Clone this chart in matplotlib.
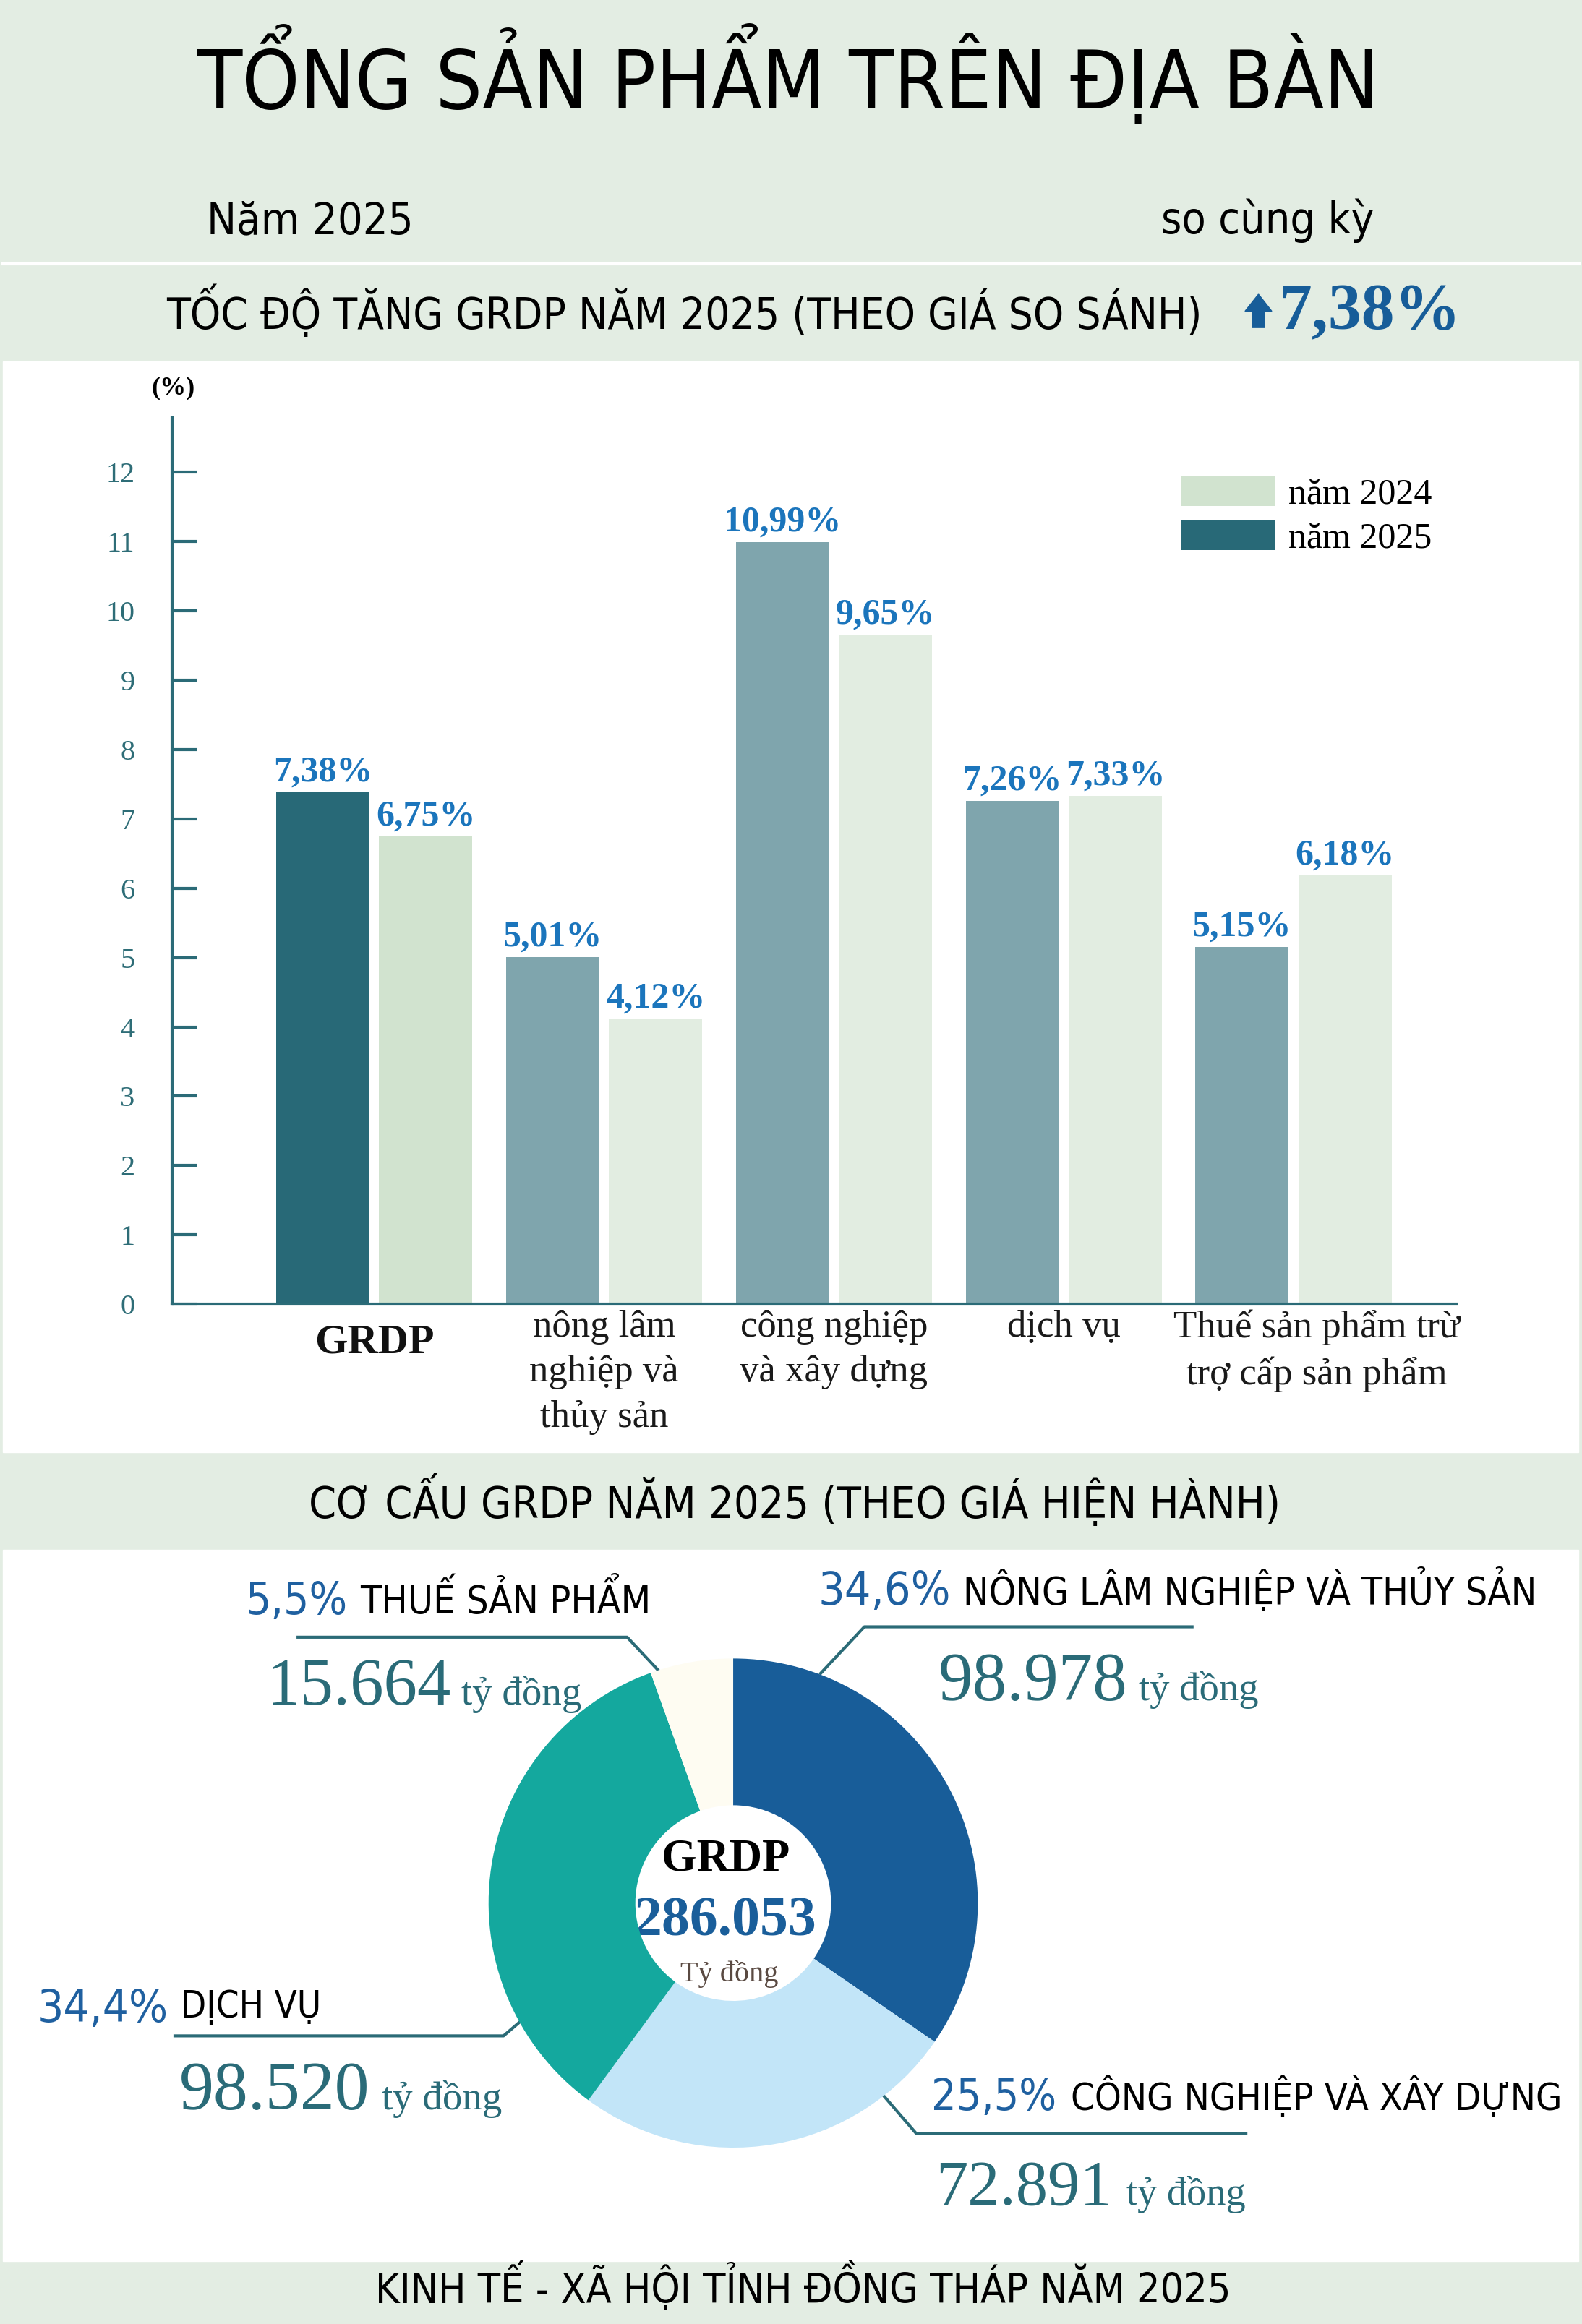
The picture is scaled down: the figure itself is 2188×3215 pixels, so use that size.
import os
import numpy as np
import matplotlib
matplotlib.use("Agg")
import matplotlib.pyplot as plt
from matplotlib import font_manager
from matplotlib.font_manager import FontProperties
from matplotlib.patches import Rectangle, Polygon

plt.rcParams["font.family"] = ["Liberation Serif", "DejaVu Serif"]

# ---- du lieu ----
nganh = ["GRDP", "nông lâm\nnghiệp và\nthủy sản", "công nghiệp\nvà xây dựng",
         "dịch vụ", "Thuế sản phẩm trừ\ntrợ cấp sản phẩm"]
tang_2025 = [7.38, 5.01, 10.99, 7.26, 5.15]
tang_2024 = [6.75, 4.12, 9.65, 7.33, 6.18]
y_ticks = list(range(0, 13))

co_cau_ten = ["NÔNG LÂM NGHIỆP VÀ THỦY SẢN", "CÔNG NGHIỆP VÀ XÂY DỰNG",
              "DỊCH VỤ", "THUẾ SẢN PHẨM"]
co_cau_gia_tri = [98978, 72891, 98520, 15664]   # tỷ đồng

# ---- mau ----
BG = "#e3ede3"
AXC = "#2b6b77"
BLUE = "#1b75bc"
PBLUE = "#1f60a0"
TEAL = "#2a6b78"
mau_2025 = ["#286977", "#7fa5ad", "#7fa5ad", "#7fa5ad", "#7fa5ad"]
mau_2024 = ["#d1e3cf", "#e2ede1", "#e2ede1", "#e2ede1", "#e2ede1"]
mau_pie = ["#185d99", "#c2e5f8", "#14a89e", "#fefcf2"]


def vn(v, nd):
    return f"{v:.{nd}f}".replace(".", ",")


def find_narrow():
    files = [f.fname for f in font_manager.fontManager.ttflist]
    prefs = ["liberationsansnarrow-regular", "notosans-condensed.", "notosans-semicondensed.",
             "opensans_condensed-regular", "roboto_condensed-regular", "dejavusanscondensed."]
    for p in prefs:
        for fn in files:
            if p in os.path.basename(fn).lower():
                return FontProperties(fname=fn)
    return FontProperties(family="Liberation Sans")


NARROW = find_narrow()
S = 2188 / 1067

fig = plt.figure(figsize=(21.88, 32.15), dpi=100)
fig.patch.set_facecolor(BG)
renderer = fig.canvas.get_renderer()

bg = fig.add_axes([0, 0, 1, 1])
bg.set_xlim(0, 1067)
bg.set_ylim(1568, 0)
bg.axis("off")
bg.add_patch(Rectangle((2, 244), 1062.5, 736, color="white", zorder=0))
bg.add_patch(Rectangle((2, 1045.5), 1062.5, 480, color="white", zorder=0))
bg.plot([2, 1065], [178, 178], color="white", lw=3)


def fit(x, y, s, w, ha="left", fp=None, **kw):
    if fp is not None:
        kw["fontproperties"] = fp.copy()
    t = bg.text(x, y, s, ha=ha, va="baseline", **kw)
    ww = t.get_window_extent(renderer).width / S
    t.set_fontsize(t.get_fontsize() * w / ww)
    return t


# ---- tieu de ----
fit(133, 73, "TỔNG SẢN PHẨM TRÊN ĐỊA BÀN", 799, fp=NARROW, color="black")
fit(139.5, 157.5, "Năm 2025", 139.5, fp=NARROW, color="black")
fit(783, 157.5, "so cùng kỳ", 144, fp=NARROW, color="black")
fit(112, 222, "TỐC ĐỘ TĂNG GRDP NĂM 2025 (THEO GIÁ SO SÁNH)", 701, fp=NARROW, color="black")
fit(862.5, 222, vn(tang_2025[0], 2) + "%", 122, color="#175d99", fontweight="bold")
bg.add_patch(Polygon([(844.6, 221), (853, 221), (853, 210), (857.8, 210), (848.8, 198.5),
                      (839.7, 210), (844.6, 210)], closed=True, color="#175d99"))
fit(208, 1024, "CƠ CẤU GRDP NĂM 2025 (THEO GIÁ HIỆN HÀNH)", 656, fp=NARROW, color="black")
fit(253, 1554, "KINH TẾ - XÃ HỘI TỈNH ĐỒNG THÁP NĂM 2025", 579, fp=NARROW, color="black")

# ---- bieu do cot ----
L, R, T, B = 116, 982, 282, 880
ax = fig.add_axes([L / 1067, 1 - B / 1568, (R - L) / 1067, (B - T) / 1568])
ax.patch.set_alpha(0)
x = np.arange(len(nganh))
w = 0.406
off = 0.224
b25 = ax.bar(x - off, tang_2025, w, color=mau_2025, zorder=1)
b24 = ax.bar(x + off, tang_2024, w, color=mau_2024, zorder=1)
ax.set_xlim(-0.8806, 4.7065)
ax.set_ylim(0, (B - T) / 46.8)

for xi, v in zip(x - off, tang_2025):
    ax.annotate(vn(v, 2) + "%", (xi, v), xytext=(0, 11), textcoords="offset points",
                ha="center", va="baseline", fontsize=36, fontweight="bold", color=BLUE)
for xi, v in zip(x + off, tang_2024):
    ax.annotate(vn(v, 2) + "%", (xi, v), xytext=(0, 11), textcoords="offset points",
                ha="center", va="baseline", fontsize=36, fontweight="bold", color=BLUE)

for sp in ["top", "right"]:
    ax.spines[sp].set_visible(False)
for sp in ["left", "bottom"]:
    ax.spines[sp].set_color(AXC)
    ax.spines[sp].set_linewidth(3)
ax.set_yticks(y_ticks)
ax.tick_params(axis="y", direction="in", length=25, width=3, color=AXC, pad=37,
               labelsize=29, labelcolor="#2e6d77")
ax.set_xticks([])

for i, lab in enumerate(nganh):
    if i == 0:
        ax.text(x[i], -0.022, lab, transform=ax.get_xaxis_transform(), ha="center", va="top",
                fontsize=42, fontweight="bold", color="#111111")
    else:
        dx = 0.1 if i == 4 else 0
        ax.text(x[i] + dx, -0.006, lab, transform=ax.get_xaxis_transform(), ha="center",
                va="top", fontsize=38, color="#1a1a1a", linespacing=1.4)

ax.legend([b24, b25], ["năm 2024", "năm 2025"], loc="upper left", bbox_to_anchor=(0.786, 0.934),
          frameon=False, fontsize=36, handlelength=2.6, handleheight=0.89,
          handletextpad=0.37, labelspacing=0.24, borderpad=0, borderaxespad=0)
bg.text(117, 262, "(%)", ha="center", va="center", fontsize=26, fontweight="bold")

# ---- bieu do tron ----
tong = sum(co_cau_gia_tri)
pa = fig.add_axes([(494.5 - 165) / 1067, 1 - (1284 + 165) / 1568, 330 / 1067, 330 / 1568])
pa.pie(co_cau_gia_tri, colors=mau_pie, startangle=90, counterclock=False,
       wedgeprops=dict(width=0.6, linewidth=0))
pa.set_xlim(-1, 1)
pa.set_ylim(-1, 1)

bg.text(489.5, 1262, "GRDP", ha="center", va="baseline", fontsize=45, fontweight="bold", color="black")
bg.text(489, 1306, f"{tong:,}".replace(",", "."), ha="center", va="baseline", fontsize=56,
        fontweight="bold", color="#1a5e9a")
bg.text(492, 1337, "Tỷ đồng", ha="center", va="baseline", fontsize=29, color="#5a4a42")

pt = [vn(v / tong * 100, 1) + "%" for v in co_cau_gia_tri]
so = [f"{v:,}".replace(",", ".") for v in co_cau_gia_tri]

# nong lam nghiep
fit(551.6, 1082.6, pt[0], 89, fp=NARROW, color=PBLUE)
fit(649.6, 1082.6, co_cau_ten[0], 387.5, fp=NARROW, color="black")
fit(633, 1147, so[0], 127, color=TEAL)
fit(768, 1147, "tỷ đồng", 80.5, color=TEAL)
bg.plot([553.5, 583, 804], [1129, 1097.6, 1097.6], color=AXC, lw=3)

# cong nghiep
fit(628, 1423.6, pt[1], 84.7, fp=NARROW, color=PBLUE)
fit(722, 1423.6, co_cau_ten[1], 332, fp=NARROW, color="black")
fit(631, 1487.5, so[1], 118.6, color=TEAL)
fit(760, 1487.5, "tỷ đồng", 80, color=TEAL)
bg.plot([596, 618, 840.3], [1414, 1439.5, 1439.5], color=AXC, lw=3)

# dich vu
fit(25, 1364, pt[2], 88, fp=NARROW, color=PBLUE)
fit(122, 1361, co_cau_ten[2], 94.5, fp=NARROW, color="black")
fit(121, 1423, so[2], 128, color=TEAL)
fit(257.5, 1423, "tỷ đồng", 81, color=TEAL)
bg.plot([118, 339.6, 350.8], [1373.6, 1373.6, 1364], color=AXC, lw=3)

# thue san pham
fit(165.7, 1089, pt[3], 69, fp=NARROW, color=PBLUE)
fit(243, 1088.5, co_cau_ten[3], 196, fp=NARROW, color="black")
fit(180, 1150, so[3], 124, color=TEAL)
fit(311, 1150, "tỷ đồng", 81, color=TEAL)
bg.plot([201, 423, 444], [1104.6, 1104.6, 1127], color=AXC, lw=3)

fig.savefig("out.png", dpi=100, facecolor=BG)
